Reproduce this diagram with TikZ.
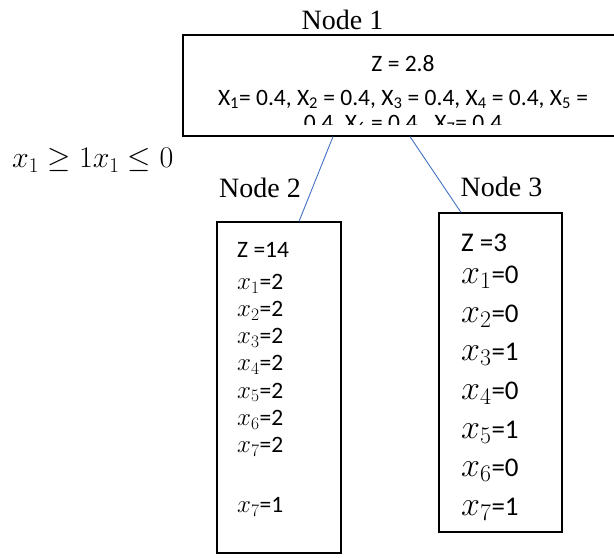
\RequirePackage{fix-cm}
\documentclass[tikz,border=0pt]{standalone}
\usepackage{amsmath,amssymb}
\usepackage{fontspec}
\setmainfont{Liberation Serif}
\newfontfamily\calibri{Carlito}
\usepackage{tikz}
\definecolor{branchline}{RGB}{68,114,196}
\newcommand\bigvar[1]{{\fontsize{34}{38.7}\selectfont\(x_{#1}\)}}
\newcommand\smallvar[1]{{\fontsize{25}{27.2}\selectfont\(x_{#1}\)}}
\tikzset{box/.style={draw,line width=1.2pt,inner sep=0pt},
 branch/.style={branchline,line width=0.9pt},
 title/.style={font=\fontsize{28}{30}\selectfont,inner sep=0pt,anchor=base},
 values/.style={font=\calibri\fontsize{23.5}{27.2}\selectfont,inner sep=0pt,align=left,anchor=north west}}
\begin{document}
\begin{tikzpicture}[x=1pt,y=-1pt]
\useasboundingbox (0,0) rectangle (614,559);
\clip (0,0) rectangle (614,559);
\node[box,minimum width=440pt,minimum height=101pt] (n1) at (403,85.5) {};
\node[box,minimum width=124pt,minimum height=331pt] (n2) at (279,387.5) {};
\node[box,minimum width=123pt,minimum height=319pt] (n3) at (500.5,372.5) {};
\node[title] (l1) at (342.5,30) {Node 1};
\node[title] (l2) at (260,198) {Node 2};
\node[title] (l3) at (501.5,197) {Node 3};
\begin{scope}
\clip (183,35) rectangle (623,125);
\node[values,align=center,anchor=north,font=\calibri\fontsize{23.5}{25}\selectfont] (z1) at (403,55)
 {Z = 2.8\\[9pt] X\textsubscript{1}= 0.4, X\textsubscript{2} = 0.4, X\textsubscript{3} = 0.4, X\textsubscript{4} = 0.4, X\textsubscript{5} =\\
 0.4, X\textsubscript{6} = 0.4,~ X\textsubscript{7}= 0.4};
\end{scope}
\node[values] (z2) at (237,242)
 {Z =14\\[4.8pt] \smallvar{1}=2\\ \smallvar{2}=2\\ \smallvar{3}=2\\ \smallvar{4}=2\\ \smallvar{5}=2\\ \smallvar{6}=2\\ \smallvar{7}=2\\[32.8pt] \smallvar{7}=1};
\node[values,font=\calibri\fontsize{27}{38.7}\selectfont] (z3) at (461,234)
 {Z =3\\[-7.1pt] \bigvar{1}=0\\ \bigvar{2}=0\\ \bigvar{3}=1\\ \bigvar{4}=0\\ \bigvar{5}=1\\ \bigvar{6}=0\\ \bigvar{7}=1};
\node[inner sep=0pt,anchor=base west,font=\fontsize{30}{34}\selectfont] (cut) at (12,168)
 {\(x_1 \geq 1 x_1 \leq 0\)};
\draw[branch] ([xshift=-70pt]n1.south) -- ([xshift=20pt]n2.north);
\draw[branch] ([xshift=7pt]n1.south) -- ([xshift=-39.5pt]n3.north);
\end{tikzpicture}
\end{document}
